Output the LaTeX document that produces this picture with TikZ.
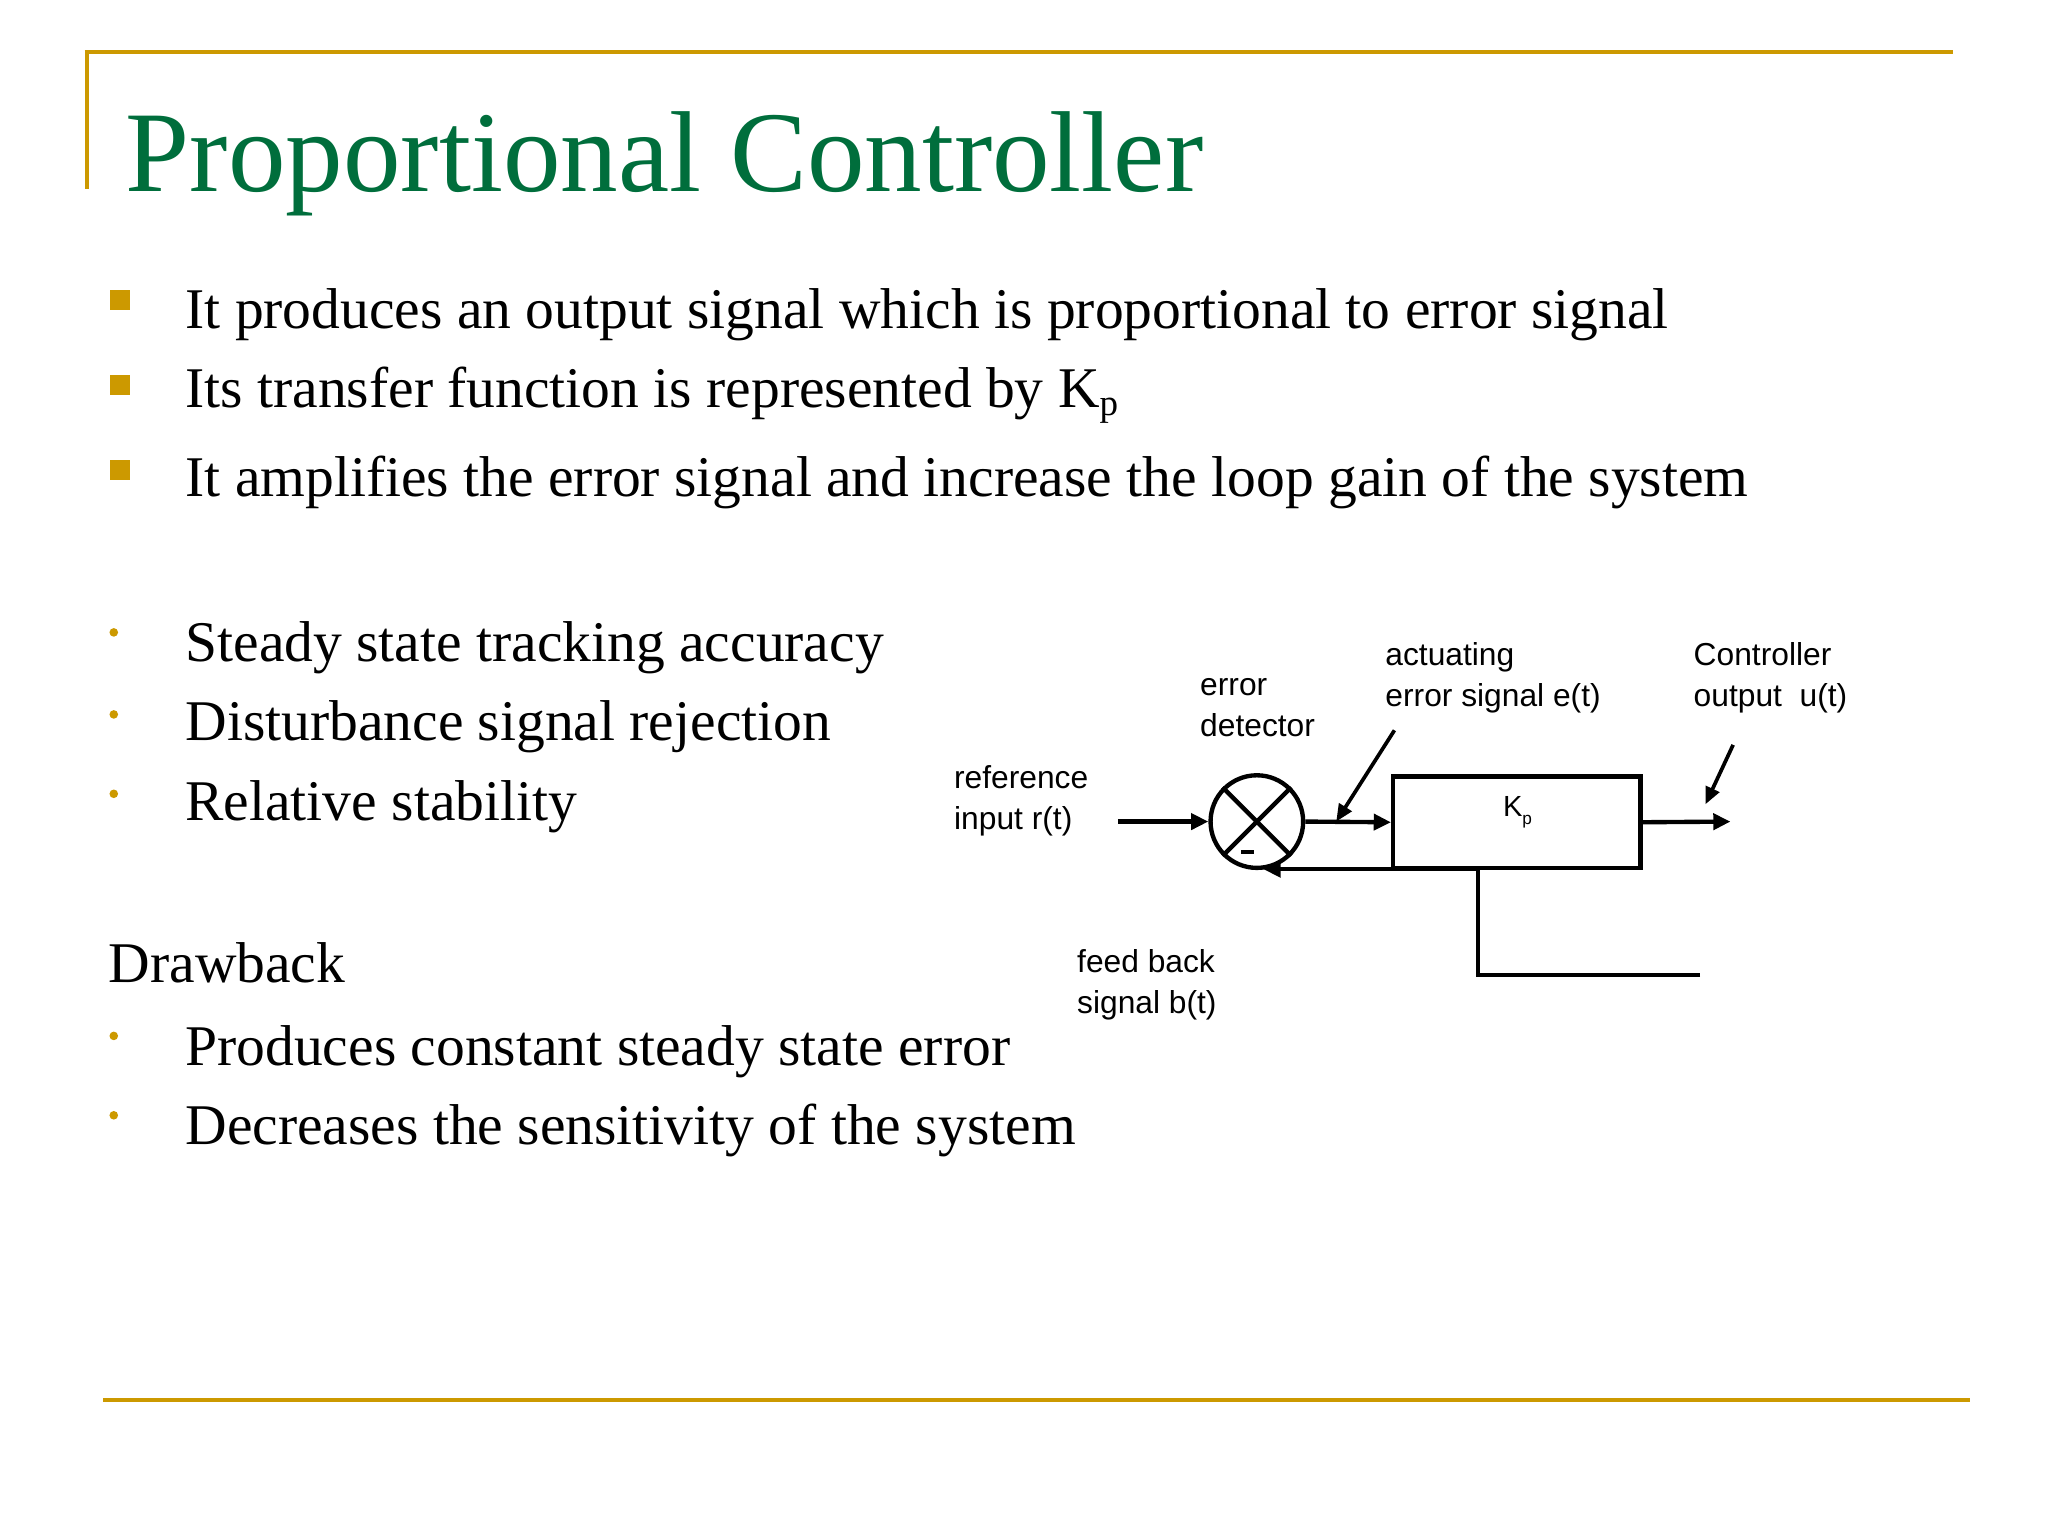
\documentclass[tikz,border=0pt]{standalone}
\usepackage{fontspec}
\setmainfont{Liberation Serif}
\newfontfamily\arialf{Liberation Sans}
\usetikzlibrary{arrows.meta}
\definecolor{titlegreen}{RGB}{0,110,60}
\definecolor{gold}{RGB}{204,153,0}
\begin{document}
\begin{tikzpicture}[x=1pt,y=-1pt,
  bodytext/.style={anchor=base west,inner sep=0,font=\fontsize{43.5}{48}\selectfont},
  sqbullet/.style={fill=gold,minimum size=15pt,inner sep=0},
  dotbullet/.style={fill=gold,circle,minimum size=6.5pt,inner sep=0},
  lbl/.style={anchor=west,inner sep=0,align=left,font=\arialf\fontsize{24}{31}\selectfont},
  wire/.style={line width=3.3pt},
  arr/.style={wire,-{Triangle[length=13pt,width=12pt]}},
  thinarr/.style={line width=2.8pt,-{Triangle[length=13pt,width=11pt]}}]
\useasboundingbox (0,0) rectangle (1548,1161);
% frame
\draw[gold,line width=3pt] (64,39) -- (1476,39);
\draw[gold,line width=3pt] (66,39) -- (66,143);
\draw[gold,line width=3pt] (78,1058) -- (1489,1058);
\node[anchor=base west,inner sep=0,text=titlegreen,font=\fontsize{87}{95}\selectfont] (title) at (95,145) {Proportional Controller};
% square bullets
\node[sqbullet] (b1) at (91,227) {};
\node[sqbullet] (b2) at (91,291) {};
\node[sqbullet] (b3) at (91,355) {};
\node[bodytext] (t1) at (140,248) {It produces an output signal which is proportional to error signal};
\node[bodytext] (t2) at (140,308) {Its transfer function is represented by K\raisebox{-0.3ex}{\fontsize{28}{30}\selectfont p}};
\node[bodytext] (t3) at (140,375) {It amplifies the error signal and increase the loop gain of the system};
% small bullets
\node[dotbullet] (d1) at (86,478) {};
\node[dotbullet] (d2) at (86,540) {};
\node[dotbullet] (d3) at (86,600) {};
\node[bodytext] (s1) at (140,500) {Steady state tracking accuracy};
\node[bodytext] (s2) at (140,560) {Disturbance signal rejection};
\node[bodytext] (s3) at (140,620) {Relative stability};
\node[bodytext] (dr) at (82,743) {Drawback};
\node[dotbullet] (d4) at (86,783) {};
\node[dotbullet] (d5) at (86,843) {};
\node[bodytext] (s4) at (140,805) {Produces constant steady state error};
\node[bodytext] (s5) at (140,865) {Decreases the sensitivity of the system};
% diagram
\node[draw,circle,line width=3.3pt,minimum size=70pt,inner sep=0] (sum) at (950,621) {};
\draw[wire] (sum.north west) -- (sum.south east);
\draw[wire] (sum.north east) -- (sum.south west);
\node[fill=black,minimum width=10pt,minimum height=2.5pt,inner sep=0] (minus) at (943,644) {};
\node[draw,line width=3.3pt,minimum width=187pt,minimum height=69pt,inner sep=0] (kp) at (1146.5,621.5) {};
\node[inner sep=0,font=\arialf\fontsize{22}{22}\selectfont] (kpl) at (1147,614) {K\raisebox{-0.5ex}{\fontsize{13}{14}\selectfont p}};
\coordinate (rin) at (845,621);
\coordinate (uout) at (1308,621);
\coordinate (fb1) at (1117,657);
\coordinate (fb2) at (1117,737);
\coordinate (fb3) at (1285,737);
\draw[arr] (rin) -- (sum.west);
\draw[arr] (sum.east) -- (kp.west);
\draw[arr] (kp.east) -- (uout);
\draw[wire] (fb3) -- (fb2) -- (fb1);
\draw[arr] (fb1) -- (955,657);
\node[lbl] (lref) at (721,605) {reference\\input r(t)};
\node[lbl] (ldet) at (907,535) {error\\detector};
\node[lbl] (lact) at (1047,512) {actuating\\error signal e(t)};
\node[lbl] (lout) at (1280,512) {Controller\\output\ \ u(t)};
\node[lbl] (lfb) at (814,744) {feed back\\signal b(t)};
\coordinate (a1) at (1054,552);
\coordinate (a2) at (1010,621);
\coordinate (o1) at (1310,563);
\coordinate (o2) at (1289,608);
\draw[thinarr] (a1) -- (a2);
\draw[thinarr] (o1) -- (o2);
\end{tikzpicture}
\end{document}
